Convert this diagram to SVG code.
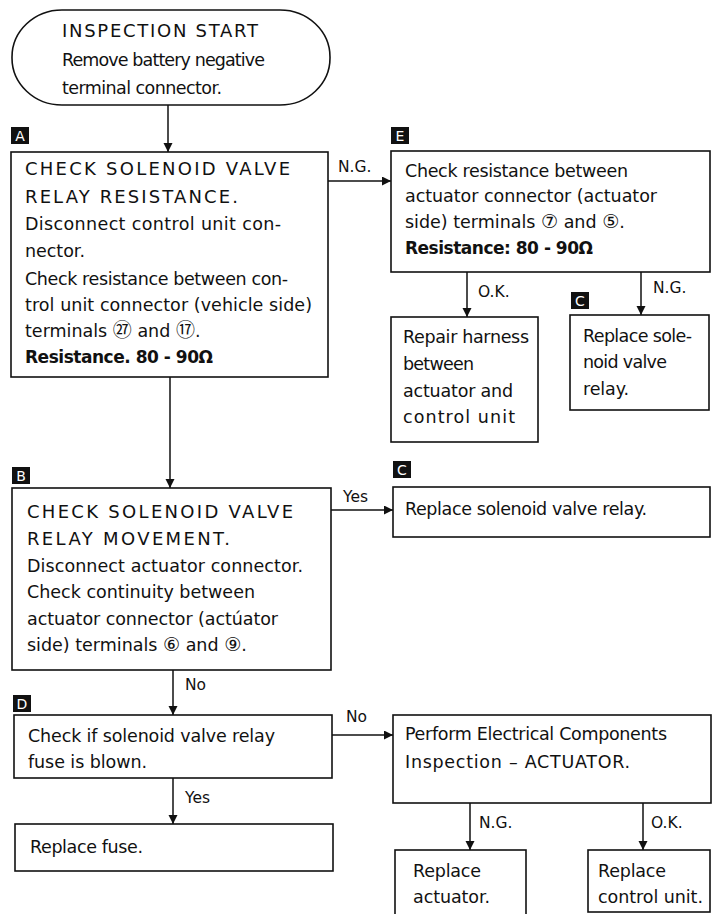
<svg xmlns="http://www.w3.org/2000/svg" width="712" height="914" viewBox="0 0 712 914">
<style>
.box{fill:#fff;stroke:#111;stroke-width:1.6}
.t{font-family:"DejaVu Sans","Noto Sans CJK JP",sans-serif;font-size:17.5px;fill:#111}
.h{font-family:"DejaVu Sans","Noto Sans CJK JP",sans-serif;font-size:18px;fill:#111}
.b{font-family:"DejaVu Sans","Noto Sans CJK JP",sans-serif;font-size:17px;font-weight:bold;fill:#111}
.cn{font-size:19px}
.lb{font-family:"DejaVu Sans",sans-serif;font-size:15.5px;fill:#111}
.tag{fill:#111}
.tagt{font-family:"DejaVu Sans",sans-serif;font-size:14px;fill:#fff;text-anchor:middle}
.con{fill:none;stroke:#111;stroke-width:1.5}
</style>
<defs>
<marker id="ah" markerUnits="userSpaceOnUse" markerWidth="10" markerHeight="10" refX="9" refY="4.5" orient="auto">
<path d="M0,0 L9,4.5 L0,9 z" fill="#111"/>
</marker>
</defs>
<rect width="712" height="914" fill="#fff"/>

<g id="connectors">
<path class="con" d="M168,105 V152" marker-end="url(#ah)"/>
<path class="con" d="M328,181 H391" marker-end="url(#ah)"/>
<path class="con" d="M467,272 V317" marker-end="url(#ah)"/>
<path class="con" d="M641,272 V315" marker-end="url(#ah)"/>
<path class="con" d="M170,377 V488" marker-end="url(#ah)"/>
<path class="con" d="M331,510 H393" marker-end="url(#ah)"/>
<path class="con" d="M173,670 V715" marker-end="url(#ah)"/>
<path class="con" d="M332,735 H393" marker-end="url(#ah)"/>
<path class="con" d="M173,778 V824" marker-end="url(#ah)"/>
<path class="con" d="M470,803 V850" marker-end="url(#ah)"/>
<path class="con" d="M643,803 V850" marker-end="url(#ah)"/>
<text class="lb" x="338" y="172">N.G.</text>
<text class="lb" x="478" y="297">O.K.</text>
<text class="lb" x="653" y="293">N.G.</text>
<text class="lb" x="343" y="502">Yes</text>
<text class="lb" x="185" y="690">No</text>
<text class="lb" x="346" y="722">No</text>
<text class="lb" x="185" y="803">Yes</text>
<text class="lb" x="479" y="828">N.G.</text>
<text class="lb" x="651" y="828">O.K.</text>
</g>

<g id="start">
<rect class="box" x="12" y="10" width="318" height="95" rx="50" ry="47"/>
<text class="h" x="62" y="37" textLength="196" lengthAdjust="spacing">INSPECTION START</text>
<text class="t" x="62" y="66" textLength="203" lengthAdjust="spacing">Remove battery negative</text>
<text class="t" x="62" y="94" textLength="160" lengthAdjust="spacing">terminal connector.</text>
</g>

<g id="nodeA">
<rect class="tag" x="11" y="127" width="18" height="17"/>
<text class="tagt" x="20" y="141">A</text>
<rect class="box" x="11" y="152" width="317" height="225"/>
<text class="h" x="25" y="175" textLength="265" lengthAdjust="spacing">CHECK SOLENOID VALVE</text>
<text class="h" x="25" y="203" textLength="213" lengthAdjust="spacing">RELAY RESISTANCE.</text>
<text class="t" x="25" y="230" textLength="256" lengthAdjust="spacing">Disconnect control unit con-</text>
<text class="t" x="25" y="257" textLength="60" lengthAdjust="spacing">nector.</text>
<text class="t" x="25" y="285" textLength="263" lengthAdjust="spacing">Check resistance between con-</text>
<text class="t" x="25" y="311" textLength="287" lengthAdjust="spacing">trol unit connector (vehicle side)</text>
<text class="t" x="25" y="337">terminals <tspan class="cn">㉗</tspan> and <tspan class="cn">⑰</tspan>.</text>
<text class="b" x="25" y="363" textLength="188" lengthAdjust="spacing">Resistance.  80 - 90Ω</text>
</g>

<g id="nodeE">
<rect class="tag" x="391" y="127" width="18" height="17"/>
<text class="tagt" x="400" y="141">E</text>
<rect class="box" x="391" y="151" width="319" height="121"/>
<text class="t" x="405" y="177" textLength="223" lengthAdjust="spacing">Check resistance between</text>
<text class="t" x="405" y="202" textLength="252" lengthAdjust="spacing">actuator connector (actuator</text>
<text class="t" x="405" y="228">side) terminals <tspan class="cn">⑦</tspan> and <tspan class="cn">⑤</tspan>.</text>
<text class="b" x="405" y="254" textLength="188" lengthAdjust="spacing">Resistance:  80 - 90Ω</text>
</g>

<g id="repairHarness">
<rect class="box" x="391" y="317" width="147" height="125"/>
<text class="t" x="403" y="343" textLength="126" lengthAdjust="spacing">Repair harness</text>
<text class="t" x="403" y="370" textLength="71" lengthAdjust="spacing">between</text>
<text class="t" x="403" y="397" textLength="110" lengthAdjust="spacing">actuator and</text>
<text class="t" x="403" y="423" textLength="112" lengthAdjust="spacing">control  unit</text>
</g>

<g id="replaceRelay1">
<rect class="tag" x="571" y="292" width="18" height="17"/>
<text class="tagt" x="580" y="306">C</text>
<rect class="box" x="570" y="315" width="139" height="95"/>
<text class="t" x="583" y="342" textLength="109" lengthAdjust="spacing">Replace sole-</text>
<text class="t" x="583" y="368" textLength="84" lengthAdjust="spacing">noid valve</text>
<text class="t" x="583" y="395" textLength="46" lengthAdjust="spacing">relay.</text>
</g>

<g id="nodeB">
<rect class="tag" x="12" y="467" width="18" height="17"/>
<text class="tagt" x="21" y="481">B</text>
<rect class="box" x="12" y="488" width="319" height="182"/>
<text class="h" x="27" y="518" textLength="266" lengthAdjust="spacing">CHECK SOLENOID VALVE</text>
<text class="h" x="27" y="545" textLength="203" lengthAdjust="spacing">RELAY MOVEMENT.</text>
<text class="t" x="27" y="572" textLength="276" lengthAdjust="spacing">Disconnect actuator connector.</text>
<text class="t" x="27" y="598" textLength="228" lengthAdjust="spacing">Check continuity between</text>
<text class="t" x="27" y="625" textLength="251" lengthAdjust="spacing">actuator connector (actúator</text>
<text class="t" x="27" y="651">side) terminals <tspan class="cn">⑥</tspan> and <tspan class="cn">⑨</tspan>.</text>
</g>

<g id="replaceRelay2">
<rect class="tag" x="393" y="461" width="18" height="17"/>
<text class="tagt" x="402" y="475">C</text>
<rect class="box" x="393" y="487" width="317" height="50"/>
<text class="t" x="405" y="515" textLength="242" lengthAdjust="spacing">Replace solenoid valve relay.</text>
</g>

<g id="nodeD">
<rect class="tag" x="13" y="695" width="18" height="17"/>
<text class="tagt" x="22" y="709">D</text>
<rect class="box" x="14" y="715" width="318" height="63"/>
<text class="t" x="28" y="742" textLength="247" lengthAdjust="spacing">Check if solenoid valve relay</text>
<text class="t" x="28" y="768" textLength="119" lengthAdjust="spacing">fuse is blown.</text>
</g>

<g id="performInspection">
<rect class="box" x="393" y="715" width="318" height="88"/>
<text class="t" x="405" y="740" textLength="262" lengthAdjust="spacing">Perform Electrical Components</text>
<text class="t" x="405" y="768" textLength="225" lengthAdjust="spacing">Inspection – ACTUATOR.</text>
</g>

<g id="replaceFuse">
<rect class="box" x="15" y="824" width="318" height="47"/>
<text class="t" x="30" y="853" textLength="113" lengthAdjust="spacing">Replace fuse.</text>
</g>

<g id="replaceActuator">
<rect class="box" x="395" y="850" width="131" height="80"/>
<text class="t" x="413" y="877" textLength="68" lengthAdjust="spacing">Replace</text>
<text class="t" x="413" y="903" textLength="77" lengthAdjust="spacing">actuator.</text>
</g>

<g id="replaceControlUnit">
<rect class="box" x="588" y="850" width="122" height="62"/>
<text class="t" x="598" y="877" textLength="68" lengthAdjust="spacing">Replace</text>
<text class="t" x="598" y="903" textLength="105" lengthAdjust="spacing">control unit.</text>
</g>
</svg>
